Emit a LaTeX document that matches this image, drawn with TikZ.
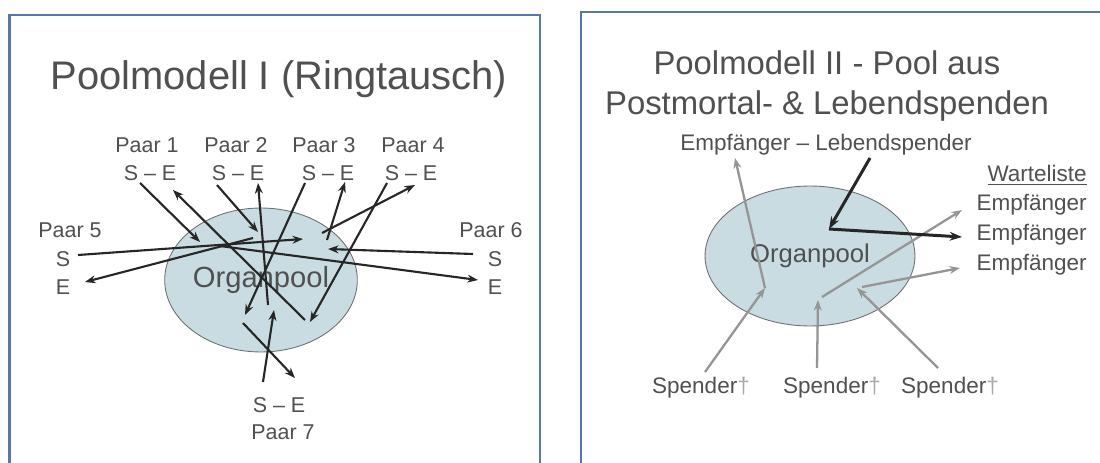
\documentclass[tikz,border=0pt]{standalone}
\usepackage{fontspec}
\setmainfont{Liberation Sans}
\usetikzlibrary{arrows.meta,shapes.geometric}
\definecolor{txtgray}{HTML}{505050}
\definecolor{framecol}{HTML}{5577AA}
\definecolor{poolfill}{HTML}{C9DCE1}
\definecolor{poolline}{HTML}{707070}
\definecolor{arrblack}{HTML}{262626}
\definecolor{arrgray}{HTML}{959595}
\definecolor{daggray}{HTML}{A8A8A8}
\begin{document}
\begin{tikzpicture}[x=0.02cm,y=-0.02cm,
  lbl/.style={text=txtgray,font=\fontsize{12.2}{13}\selectfont,inner sep=0pt},
  rlbl/.style={text=txtgray,font=\fontsize{12.8}{14}\selectfont,inner sep=0pt},
  pool/.style={ellipse,draw=poolline,line width=0.5pt,fill=poolfill,inner sep=0pt,text=txtgray},
  blackarr/.style={draw=arrblack,line width=1.2pt,-{Stealth[length=6pt,width=4.5pt]}},
  grayarr/.style={draw=arrgray,line width=1.3pt,-{Stealth[length=6pt,width=4.5pt]}},
  darkarr/.style={draw=arrblack,line width=1.7pt,-{Stealth[length=7pt,width=5pt]}},
  frame/.style={draw=framecol,line width=1.3pt}]
\useasboundingbox (0,0) rectangle (1100,463);
\fill[white] (0,0) rectangle (1100,463);
\begin{scope}
\clip (0,0) rectangle (1100,463);
\draw[frame] (9.5,15) rectangle (540,480);
\draw[frame] (581,12) rectangle (1120,480);
\end{scope}

% ---------------- left panel ----------------
\node[text=txtgray,font=\fontsize{22.7}{26}\selectfont,inner sep=0pt] (t1) at (279,79) {Poolmodell I (Ringtausch)};
\node[pool,minimum width=3.84cm,minimum height=2.88cm,font=\fontsize{16.6}{18}\selectfont] (pool1) at (261,280) {Organpool};

\node[lbl] (p1) at (147,145) {Paar 1};
\node[lbl] (p2) at (236,145) {Paar 2};
\node[lbl] (p3) at (324,145) {Paar 3};
\node[lbl] (p4) at (413,145) {Paar 4};
\node[lbl] (se1) at (150,173) {S – E};
\node[lbl] (se2) at (238,173) {S – E};
\node[lbl] (se3) at (328,173) {S – E};
\node[lbl] (se4) at (411,173) {S – E};
\node[lbl] (p5) at (70,230) {Paar 5};
\node[lbl] (s5) at (63,259) {S};
\node[lbl] (e5) at (63,287) {E};
\node[lbl] (p6) at (491,230) {Paar 6};
\node[lbl] (s6) at (495,259) {S};
\node[lbl] (e6) at (495,287) {E};
\node[lbl] (se7) at (279,405) {S – E};
\node[lbl] (p7) at (283,432) {Paar 7};

% start / end points
\coordinate (a1s) at (140,183); \coordinate (b1s) at (200,242);
\coordinate (b1e) at (305,320); \coordinate (a1e) at (173,190);
\coordinate (a2s) at (217,185); \coordinate (b2s) at (258,232);
\coordinate (b2e) at (268,305); \coordinate (a2e) at (258,183);
\coordinate (a3s) at (305,183); \coordinate (b3s) at (245,315);
\coordinate (b3e) at (327,240); \coordinate (a3e) at (345,182);
\coordinate (a4s) at (387,183); \coordinate (b4s) at (310,322);
\coordinate (b4e) at (322,233); \coordinate (a4e) at (415,185);
\coordinate (a5s) at (78,255);  \coordinate (b5s) at (303,239);
\coordinate (b5e) at (253,238); \coordinate (a5e) at (85,282);
\coordinate (a6s) at (473,254); \coordinate (b6s) at (328,249);
\coordinate (b6e) at (220,246); \coordinate (a6e) at (478,280);
\coordinate (a7s) at (263,382); \coordinate (b7s) at (274,310);
\coordinate (b7e) at (243,323); \coordinate (a7e) at (295,378);

\foreach \k in {1,...,7}{
  \draw[blackarr] (a\k s) -- (b\k s);
  \draw[blackarr] (b\k e) -- (a\k e);
}

% ---------------- right panel ----------------
\node[text=txtgray,font=\fontsize{18.7}{22.7}\selectfont,inner sep=0pt,align=center] (t2) at (827,86) {Poolmodell II - Pool aus\\Postmortal- \& Lebendspenden};
\node[pool,minimum width=4.2cm,minimum height=2.8cm,font=\fontsize{14.6}{16}\selectfont] (pool2) at (810,256) {Organpool};

\node[rlbl] (el) at (826,145) {Empfänger – Lebendspender};
\node[rlbl,anchor=east] (wl) at (1087,175) {\underline{Warteliste}};
\node[rlbl,anchor=east] (em1) at (1087,205) {Empfänger};
\node[rlbl,anchor=east] (em2) at (1087,235) {Empfänger};
\node[rlbl,anchor=east] (em3) at (1087,265) {Empfänger};
\node[rlbl] (sp1) at (701,388) {Spender{\color{daggray}†}};
\node[rlbl] (sp2) at (832,388) {Spender{\color{daggray}†}};
\node[rlbl] (sp3) at (950,388) {Spender{\color{daggray}†}};

\coordinate (r1a) at (765,288); \coordinate (r1b) at (735,158);
\coordinate (r2a) at (705,372);
\coordinate (r3a) at (817,368); \coordinate (r3b) at (818,300);
\coordinate (r4a) at (822,297); \coordinate (r4b) at (962,210);
\coordinate (r5a) at (938,368); \coordinate (r5b) at (857,288);
\coordinate (r6a) at (862,287); \coordinate (r6b) at (960,268);
\coordinate (d1) at (870,158); \coordinate (d2) at (829,229); \coordinate (d3) at (962,237);

\draw[grayarr] (r1a) -- (r1b);
\draw[grayarr] (r2a) -- (r1a);
\draw[grayarr] (r3a) -- (r3b);
\draw[grayarr] (r4a) -- (r4b);
\draw[grayarr] (r5a) -- (r5b);
\draw[grayarr] (r6a) -- (r6b);
\draw[darkarr] (d1) -- (d2);
\draw[darkarr] (d2) -- (d3);
\end{tikzpicture}
\end{document}
